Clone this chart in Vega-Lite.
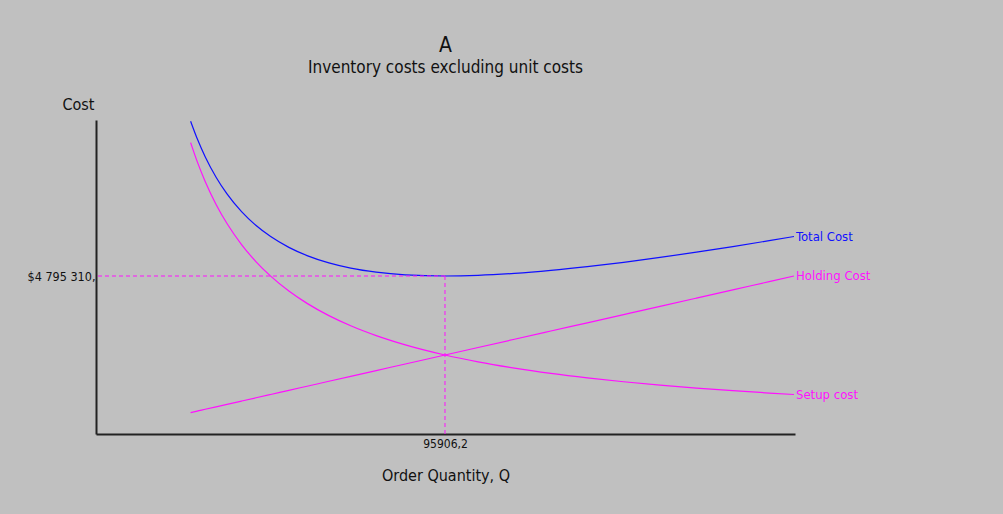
{
  "$schema": "https://vega.github.io/schema/vega-lite/v6.json",
  "autosize": {"type": "none"},
  "width": 699,
  "height": 314,
  "padding": {"left": 96, "top": 120, "right": 208, "bottom": 80},
  "background": "#c0c0c0",
  "config": {
    "view": {"stroke": null},
    "font": "DejaVu Sans Condensed, Liberation Sans, sans-serif"
  },
  "title": {
    "text": "A",
    "subtitle": "Inventory costs excluding unit costs",
    "anchor": "middle",
    "frame": "group",
    "fontSize": 21,
    "fontWeight": "normal",
    "color": "#111111",
    "subtitleFontSize": 17,
    "subtitleColor": "#111111",
    "subtitlePadding": 4,
    "offset": 20,
    "font": "DejaVu Sans Condensed, Liberation Sans, sans-serif",
    "subtitleFont": "DejaVu Sans Condensed, Liberation Sans, sans-serif"
  },
  "datasets": {
    "costs": [
      {"Q": 26000, "Total Cost": 9494230, "Holding Cost": 650000, "Setup cost": 8844230},
      {"Q": 28000, "Total Cost": 8912499, "Holding Cost": 700000, "Setup cost": 8212499},
      {"Q": 30000, "Total Cost": 8414999, "Holding Cost": 750000, "Setup cost": 7664999},
      {"Q": 33000, "Total Cost": 7793181, "Holding Cost": 825000, "Setup cost": 6968181},
      {"Q": 36000, "Total Cost": 7287499, "Holding Cost": 900000, "Setup cost": 6387499},
      {"Q": 40000, "Total Cost": 6748750, "Holding Cost": 1000000, "Setup cost": 5748750},
      {"Q": 44000, "Total Cost": 6326136, "Holding Cost": 1100000, "Setup cost": 5226136},
      {"Q": 48000, "Total Cost": 5990625, "Holding Cost": 1200000, "Setup cost": 4790625},
      {"Q": 53000, "Total Cost": 5663679, "Holding Cost": 1325000, "Setup cost": 4338679},
      {"Q": 58000, "Total Cost": 5414655, "Holding Cost": 1450000, "Setup cost": 3964655},
      {"Q": 64000, "Total Cost": 5192968, "Holding Cost": 1600000, "Setup cost": 3592968},
      {"Q": 70000, "Total Cost": 5034999, "Holding Cost": 1750000, "Setup cost": 3284999},
      {"Q": 77000, "Total Cost": 4911363, "Holding Cost": 1925000, "Setup cost": 2986363},
      {"Q": 85000, "Total Cost": 4830294, "Holding Cost": 2125000, "Setup cost": 2705294},
      {"Q": 95906.2, "Total Cost": 4795310, "Holding Cost": 2397655, "Setup cost": 2397655},
      {"Q": 105000, "Total Cost": 4814999, "Holding Cost": 2625000, "Setup cost": 2189999},
      {"Q": 115000, "Total Cost": 4874565, "Holding Cost": 2875000, "Setup cost": 1999565},
      {"Q": 125000, "Total Cost": 4964600, "Holding Cost": 3125000, "Setup cost": 1839600},
      {"Q": 135000, "Total Cost": 5078333, "Holding Cost": 3375000, "Setup cost": 1703333},
      {"Q": 145000, "Total Cost": 5210862, "Holding Cost": 3625000, "Setup cost": 1585862},
      {"Q": 155000, "Total Cost": 5358548, "Holding Cost": 3875000, "Setup cost": 1483548},
      {"Q": 165000, "Total Cost": 5518636, "Holding Cost": 4125000, "Setup cost": 1393636},
      {"Q": 175000, "Total Cost": 5689000, "Holding Cost": 4375000, "Setup cost": 1314000},
      {"Q": 185000, "Total Cost": 5867973, "Holding Cost": 4625000, "Setup cost": 1242973},
      {"Q": 191812, "Total Cost": 5994120, "Holding Cost": 4795300, "Setup cost": 1198820}
    ],
    "optimum": [
      {"Q": 95906.2, "cost": 4795310}
    ]
  },
  "layer": [
    {
      "data": {"name": "costs"},
      "transform": [{"fold": ["Total Cost", "Holding Cost", "Setup cost"], "as": ["series", "cost"]}],
      "mark": {"type": "line", "strokeWidth": 1.2, "interpolate": "monotone"},
      "encoding": {
        "x": {
          "field": "Q", "type": "quantitative",
          "scale": {"domain": [0, 192090], "nice": false, "zero": true},
          "axis": {
            "title": "Order Quantity, Q",
            "values": [95906.2],
            "labelExpr": "'95906,2'",
            "ticks": false,
            "grid": false,
            "domainColor": "#222222",
            "domainWidth": 2,
            "labelFont": "DejaVu Sans Condensed, Liberation Sans, sans-serif",
            "labelFontSize": 12,
            "labelColor": "#111111",
            "labelPadding": 4,
            "titleFont": "DejaVu Sans Condensed, Liberation Sans, sans-serif",
            "titleFontSize": 16,
            "titleFontWeight": "normal",
            "titleColor": "#111111",
            "titlePadding": 18
          }
        },
        "y": {
          "field": "cost", "type": "quantitative",
          "scale": {"domain": [0, 9530000], "nice": false},
          "axis": {
            "title": "Cost",
            "values": [4795310],
            "labelExpr": "'$4 795 310,'",
            "ticks": false,
            "grid": false,
            "domainColor": "#222222",
            "domainWidth": 2,
            "labelFont": "DejaVu Sans Condensed, Liberation Sans, sans-serif",
            "labelFontSize": 12.5,
            "labelColor": "#111111",
            "labelPadding": 1,
            "titleFont": "DejaVu Sans Condensed, Liberation Sans, sans-serif",
            "titleFontSize": 16,
            "titleFontWeight": "normal",
            "titleColor": "#111111",
            "titleAngle": 0,
            "titleAlign": "center",
            "titleBaseline": "alphabetic",
            "titleX": -18,
            "titleY": -11
          }
        },
        "color": {
          "field": "series", "type": "nominal",
          "scale": {"domain": ["Total Cost", "Holding Cost", "Setup cost"], "range": ["#1010ff", "#ff10ff", "#ff10ff"]},
          "legend": null
        }
      }
    },
    {
      "data": {"name": "costs"},
      "transform": [
        {"filter": "datum.Q == 191812"},
        {"fold": ["Total Cost", "Holding Cost", "Setup cost"], "as": ["series", "cost"]}
      ],
      "mark": {"type": "text", "align": "left", "baseline": "middle", "dx": 2, "fontSize": 13, "font": "DejaVu Sans Condensed, Liberation Sans, sans-serif"},
      "encoding": {
        "x": {"field": "Q", "type": "quantitative"},
        "y": {"field": "cost", "type": "quantitative"},
        "text": {"field": "series"},
        "color": {"field": "series", "type": "nominal", "legend": null}
      }
    },
    {
      "data": {"name": "optimum"},
      "mark": {"type": "rule", "color": "#ff10ff", "strokeDash": [4, 3], "strokeWidth": 1},
      "encoding": {
        "x": {"field": "Q", "type": "quantitative"},
        "x2": {"datum": 0},
        "y": {"field": "cost", "type": "quantitative"}
      }
    },
    {
      "data": {"name": "optimum"},
      "mark": {"type": "rule", "color": "#ff10ff", "strokeDash": [4, 3], "strokeWidth": 1},
      "encoding": {
        "x": {"field": "Q", "type": "quantitative"},
        "y": {"field": "cost", "type": "quantitative"},
        "y2": {"datum": 0}
      }
    }
  ]
}
